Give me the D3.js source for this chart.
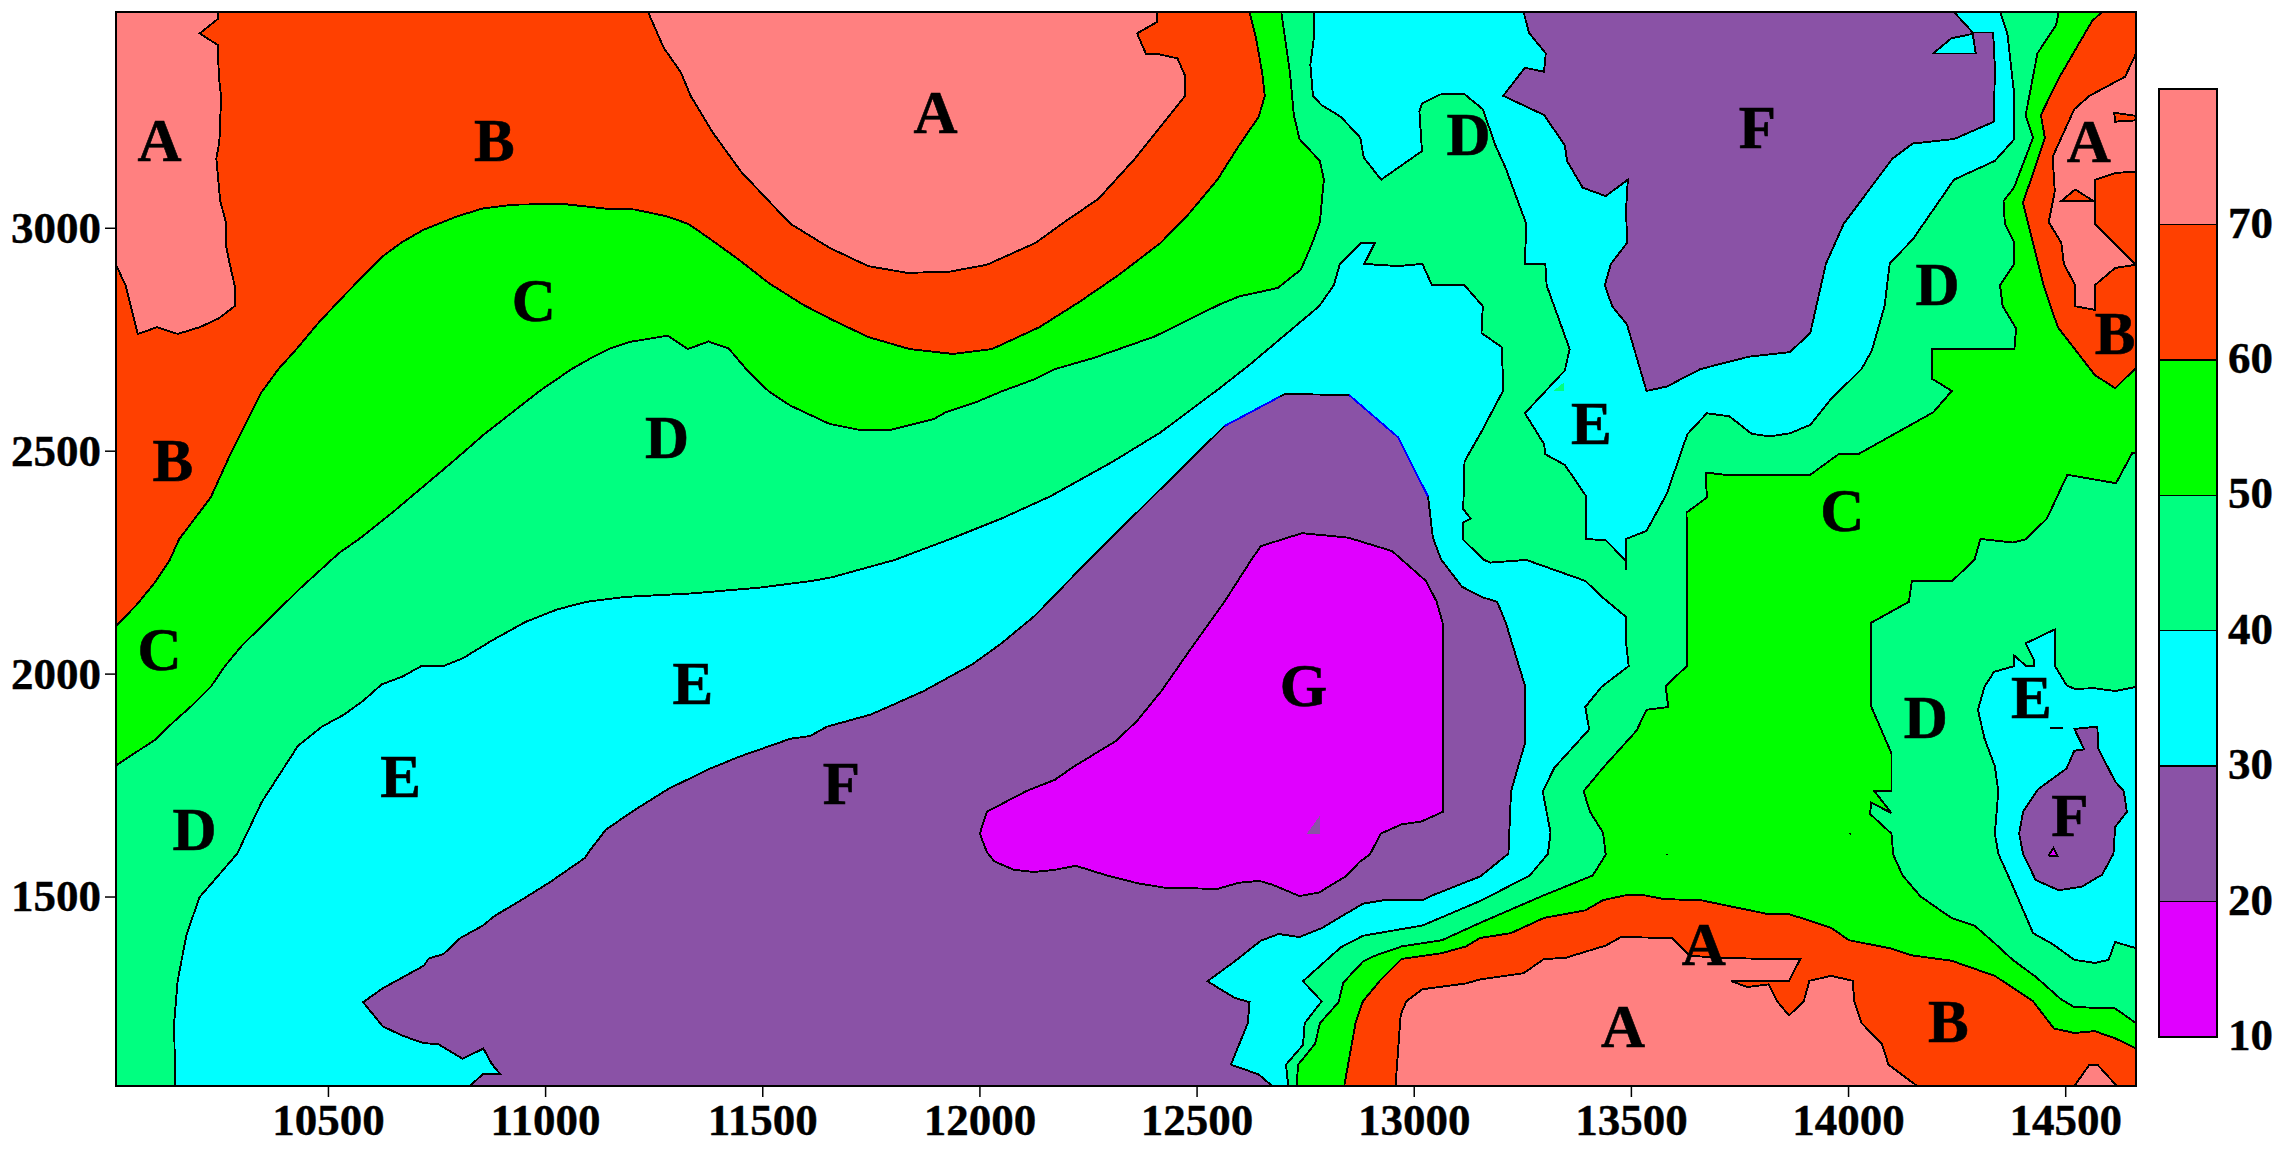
<!DOCTYPE html>
<html>
<head>
<meta charset="utf-8">
<title>Contour map</title>
<script src="https://cdn.jsdelivr.net/npm/d3@7.9.0/dist/d3.min.js"></script>
<style>
  html, body { margin: 0; padding: 0; background: #fff; }
  svg { display: block; }
  text { font-family: "Liberation Serif", "Times New Roman", serif; font-weight: bold; fill: #000; }
</style>
</head>
<body>
<svg id="chart" width="2283" height="1154"></svg>
<script>
// level letters, their colours and the value range of each colour bar band
const levels = ['A', 'B', 'C', 'D', 'E', 'F', 'G'];
const levelColors = ['#ff8080', '#ff4000', '#00ff00', '#00ff80', '#00ffff', '#8a52a6', '#e000ff'];
const levelLow = [70, 60, 50, 40, 30, 20, 10];
const levelHigh = [80, 70, 60, 50, 40, 30, 20];

const xTicks = [10500, 11000, 11500, 12000, 12500, 13000, 13500, 14000, 14500];
const yTicks = [1500, 2000, 2500, 3000];
const barTicks = [10, 20, 30, 40, 50, 60, 70];

const xExtent = [10012, 14663];
const yExtent = [1075, 3484];

// contour outlines as [x, y] in map units
const cTop = [[10012,1794],[10101,1851],[10146,1893],[10191,1932],[10230,1970],[10263,2017],[10302,2063],[10369,2127],[10436,2191],[10525,2270],[10576,2305],[10648,2361],[10715,2416],[10788,2476],[10860,2537],[10927,2588],[10989,2635],[11061,2683],[11106,2708],[11151,2730],[11195,2744],[11282,2758],[11329,2728],[11376,2745],[11422,2730],[11463,2683],[11515,2633],[11565,2601],[11655,2560],[11722,2547],[11796,2547],[11895,2571],[11922,2586],[11995,2610],[12051,2633],[12129,2661],[12174,2683],[12263,2708],[12403,2756],[12553,2828],[12598,2846],[12687,2865],[12740,2906],[12765,2962],[12784,3013],[12793,3108],[12784,3150],[12737,3199],[12724,3253],[12715,3348],[12695,3484],[10012,3484]];
const bTop = [[10012,2106],[10062,2157],[10101,2204],[10135,2253],[10157,2301],[10230,2395],[10274,2489],[10347,2631],[10386,2683],[10425,2725],[10481,2790],[10548,2859],[10626,2936],[10671,2968],[10721,2996],[10799,3026],[10855,3043],[10927,3052],[11045,3053],[11139,3043],[11206,3041],[11279,3026],[11329,3009],[11374,2979],[11424,2944],[11448,2927],[11515,2876],[11593,2828],[11660,2794],[11744,2755],[11839,2728],[11939,2717],[12029,2728],[12138,2777],[12229,2833],[12319,2893],[12417,2966],[12481,3030],[12548,3108],[12598,3185],[12643,3249],[12657,3296],[12651,3348],[12637,3425],[12622,3484],[10012,3484]];
const aTopLeft = [[10012,3484],[10246,3484],[10246,3468],[10205,3436],[10246,3410],[10249,3339],[10254,3292],[10250,3193],[10243,3155],[10252,3060],[10265,3013],[10265,2962],[10272,2927],[10285,2871],[10285,2824],[10249,2797],[10205,2777],[10154,2762],[10107,2777],[10062,2762],[10034,2871],[10012,2917]];
const aTopMid = [[11237,3484],[11273,3404],[11313,3348],[11335,3296],[11385,3215],[11452,3125],[11515,3060],[11565,3009],[11655,2955],[11744,2914],[11833,2899],[11928,2901],[12017,2917],[12129,2966],[12196,3013],[12274,3065],[12358,3155],[12473,3295],[12473,3342],[12456,3380],[12414,3389],[12384,3389],[12363,3436],[12408,3461],[12408,3484]];
const cRight = [[14485,3484],[14479,3455],[14436,3391],[14409,3253],[14426,3202],[14382,3090],[14358,3060],[14361,3009],[14383,2966],[14383,2919],[14350,2871],[14356,2824],[14387,2774],[14383,2728],[14194,2728],[14194,2661],[14239,2634],[14196,2586],[14023,2492],[13978,2492],[13913,2446],[13717,2446],[13672,2451],[13675,2395],[13628,2361],[13630,2255],[13630,2018],[13580,1972],[13586,1925],[13536,1919],[13513,1872],[13436,1789],[13391,1736],[13406,1690],[13436,1643],[13442,1594],[13412,1547],[13300,1503],[13153,1441],[13065,1402],[12972,1388],[12910,1367],[12883,1354],[12838,1307],[12827,1263],[12784,1216],[12773,1170],[12734,1123],[12730,1075],[14663,1075],[14663,1216],[14615,1249],[14521,1252],[14491,1269],[14432,1320],[14379,1358],[14338,1395],[14291,1435],[14238,1452],[14167,1500],[14126,1547],[14104,1594],[14100,1641],[14051,1685],[14053,1711],[14100,1687],[14061,1736],[14100,1736],[14100,1821],[14053,1927],[14053,2114],[14140,2161],[14147,2208],[14240,2208],[14291,2255],[14305,2302],[14379,2294],[14409,2301],[14458,2348],[14505,2446],[14617,2427],[14654,2494],[14663,2494],[14663,3484]];
const bRight = [[14585,3484],[14562,3464],[14485,3335],[14444,3253],[14453,3202],[14403,3056],[14450,2871],[14483,2777],[14568,2670],[14615,2640],[14660,2683],[14663,2683],[14663,3484]];
const aRight = [[14663,3391],[14638,3339],[14556,3296],[14521,3266],[14471,3159],[14476,3082],[14462,3013],[14491,2966],[14497,2919],[14523,2871],[14523,2824],[14568,2816],[14568,2871],[14615,2910],[14663,2917],[14568,3009],[14568,3107],[14615,3123],[14663,3126]];
const bRightSpike = [[14613,3258],[14663,3251],[14663,3241],[14615,3238]];
const bRightTri = [[14491,3060],[14523,3086],[14565,3060]];
const bBottom = [[12840,1075],[12866,1216],[12883,1265],[12922,1311],[12972,1360],[13065,1373],[13120,1388],[13153,1407],[13224,1418],[13300,1452],[13395,1469],[13436,1492],[13489,1503],[13530,1503],[13577,1494],[13660,1492],[13754,1473],[13819,1460],[13866,1460],[13961,1430],[14002,1402],[14096,1384],[14147,1368],[14238,1356],[14338,1322],[14426,1265],[14474,1204],[14521,1194],[14568,1198],[14615,1182],[14663,1159],[14663,1075]];
const aBottom = [[12958,1075],[12970,1235],[12983,1265],[13020,1292],[13120,1305],[13153,1314],[13253,1328],[13300,1360],[13348,1362],[13442,1390],[13477,1409],[13595,1407],[13636,1367],[13719,1362],[13819,1360],[13890,1360],[13864,1310],[13731,1310],[13768,1297],[13817,1303],[13837,1265],[13864,1233],[13898,1265],[13911,1311],[13961,1322],[14011,1311],[14014,1265],[14031,1216],[14078,1170],[14093,1123],[14159,1075]];
const aBottomSmall = [[14521,1075],[14556,1123],[14574,1123],[14619,1075]];
const eCentral = [[10148,1075],[10146,1218],[10154,1311],[10174,1413],[10204,1498],[10291,1596],[10347,1711],[10392,1779],[10431,1838],[10486,1881],[10537,1908],[10581,1939],[10624,1976],[10671,1993],[10715,2017],[10766,2017],[10810,2034],[10877,2074],[10955,2116],[11028,2144],[11095,2161],[11184,2172],[11340,2180],[11495,2193],[11615,2208],[11660,2216],[11805,2255],[11928,2300],[12051,2348],[12162,2397],[12308,2476],[12417,2541],[12553,2640],[12620,2691],[12782,2824],[12816,2871],[12830,2919],[12877,2965],[12910,2965],[12886,2919],[12964,2914],[13020,2919],[13042,2871],[13117,2871],[13159,2824],[13156,2764],[13203,2732],[13206,2635],[13155,2541],[13117,2476],[13114,2369],[13131,2348],[13114,2339],[13114,2300],[13162,2255],[13177,2249],[13259,2255],[13395,2208],[13436,2170],[13489,2127],[13489,2068],[13495,2017],[13432,1970],[13395,1925],[13404,1875],[13324,1789],[13297,1736],[13315,1643],[13309,1596],[13267,1547],[13153,1490],[13020,1435],[12883,1412],[12832,1386],[12745,1310],[12788,1265],[12749,1216],[12745,1167],[12706,1123],[12711,1075]];
const eTop = [[12771,3484],[12771,3434],[12762,3365],[12768,3296],[12788,3275],[12832,3249],[12877,3202],[12885,3157],[12925,3108],[13019,3172],[13013,3262],[13019,3279],[13061,3299],[13115,3301],[13159,3266],[13188,3185],[13212,3133],[13259,3009],[13256,2919],[13303,2919],[13306,2871],[13359,2728],[13348,2680],[13256,2584],[13300,2515],[13303,2492],[13348,2468],[13397,2398],[13397,2302],[13442,2299],[13489,2253],[13489,2232],[13489,2302],[13536,2320],[13583,2404],[13630,2537],[13675,2584],[13727,2577],[13778,2538],[13819,2532],[13866,2539],[13913,2558],[13961,2616],[14031,2683],[14055,2725],[14084,2824],[14096,2920],[14149,2974],[14244,3108],[14338,3150],[14382,3198],[14383,3296],[14367,3434],[14350,3484]];
const eRight = [[14663,1970],[14615,1961],[14568,1967],[14521,1966],[14503,1974],[14476,2018],[14476,2099],[14409,2068],[14429,2029],[14429,2018],[14409,2018],[14383,2040],[14383,2017],[14336,2004],[14314,1970],[14299,1919],[14314,1855],[14338,1792],[14346,1736],[14338,1641],[14346,1596],[14379,1524],[14426,1418],[14473,1392],[14521,1358],[14568,1351],[14600,1358],[14615,1398],[14663,1384]];
const fCentral = [[10827,1075],[10857,1102],[10896,1102],[10877,1125],[10858,1159],[10810,1136],[10754,1169],[10721,1171],[10671,1188],[10626,1209],[10581,1263],[10626,1294],[10721,1345],[10732,1361],[10766,1371],[10805,1407],[10857,1435],[10883,1456],[10955,1498],[11011,1532],[11091,1586],[11106,1607],[11140,1650],[11206,1694],[11285,1742],[11380,1787],[11448,1814],[11565,1854],[11610,1860],[11649,1881],[11749,1908],[11794,1927],[11872,1961],[11984,2021],[12051,2068],[12129,2131],[12252,2255],[12308,2309],[12564,2555],[12693,2622],[12704,2627],[12851,2625],[12964,2530],[13033,2397],[13044,2305],[13063,2256],[13111,2195],[13156,2172],[13192,2161],[13212,2114],[13257,1970],[13257,1847],[13224,1736],[13218,1596],[13153,1545],[13044,1503],[13020,1492],[12933,1492],[12883,1484],[12788,1429],[12737,1409],[12689,1416],[12648,1401],[12587,1354],[12525,1310],[12587,1273],[12622,1263],[12618,1216],[12579,1123],[12643,1101],[12674,1075]];
const fTop = [[13253,3484],[13265,3438],[13304,3391],[13300,3350],[13256,3359],[13206,3296],[13300,3253],[13348,3185],[13353,3150],[13389,3090],[13442,3071],[13493,3108],[13489,3043],[13491,2966],[13454,2919],[13440,2871],[13457,2824],[13491,2783],[13536,2634],[13583,2644],[13660,2683],[13772,2711],[13866,2721],[13913,2764],[13949,2919],[13990,3009],[14102,3155],[14149,3189],[14244,3199],[14336,3238],[14338,3361],[14334,3438],[14287,3438],[14244,3484]];
const eNotch = [[14196,3391],[14238,3425],[14287,3435],[14294,3391]];
const fRight = [[14521,1876],[14574,1881],[14576,1832],[14615,1758],[14635,1736],[14642,1690],[14615,1656],[14611,1596],[14585,1549],[14538,1522],[14485,1514],[14432,1537],[14403,1596],[14394,1641],[14403,1690],[14438,1741],[14503,1787],[14521,1827],[14544,1830]];
const gRightTri = [[14462,1592],[14473,1609],[14483,1590]];
const gMain = [[12648,2286],[12743,2315],[12849,2305],[12950,2275],[13028,2208],[13053,2161],[13067,2112],[13067,1690],[13017,1668],[12972,1662],[12924,1641],[12899,1594],[12877,1579],[12843,1545],[12782,1509],[12737,1501],[12676,1526],[12645,1535],[12598,1531],[12548,1517],[12425,1520],[12363,1530],[12291,1548],[12222,1569],[12174,1560],[12126,1555],[12079,1560],[12034,1579],[12017,1600],[12001,1641],[12017,1690],[12107,1736],[12174,1762],[12218,1792],[12313,1848],[12363,1894],[12419,1961],[12492,2063],[12564,2161],[12626,2255]];

// little slivers without an outline
const fInG = [[12754,1641],[12784,1681],[12784,1641]];
const dInE = [[13322,2635],[13345,2652],[13345,2635]];

// stray line pieces and specks
const dashRight = [[14464,1878],[14495,1878]];
const blueLeft = [[12564,2555],[12693,2622]];
const blueRight = [[12851,2625],[12964,2530],[13033,2397]];
const speckX = [13583, 14005];
const speckY = [1594, 1641];

// letter labels
const labelText = ['A','B','C','D','B','C','E','E','D','A','D','F','G','F','A','D','B','E','C','A','A','B','D','E','F'];
const labelX = [10112,10883,10974,11281,10143,10112,11340,10667,10193,11899,13126,11682,12746,13791,14554,14206,14615,13409,13987,13668,13482,14231,14179,14422,14511];
const labelY = [3196,3196,2837,2528,2477,2053,1978,1769,1650,3258,3208,1752,1973,3223,3193,2873,2762,2560,2365,1392,1207,1218,1900,1945,1681];

// paint order: later regions sit on top of earlier ones
const regions = [
  ['C', cTop], ['B', bTop], ['A', aTopLeft], ['A', aTopMid],
  ['C', cRight], ['B', bRight], ['A', aRight], ['B', bRightSpike], ['B', bRightTri],
  ['B', bBottom], ['A', aBottom], ['A', aBottomSmall],
  ['E', eCentral], ['E', eTop], ['E', eRight],
  ['F', fCentral], ['F', fTop], ['E', eNotch], ['F', fRight], ['G', gRightTri], ['G', gMain],
];

const x = d3.scaleLinear().domain(xExtent).range([116, 2136]);
const y = d3.scaleLinear().domain(yExtent).range([1086, 12]);
const barY = d3.scaleLinear().domain([10, 80]).range([1037, 89]);
const color = d3.scaleOrdinal().domain(levels).range(levelColors);

const svg = d3.select('#chart');

const line = d3.line().x(d => x(d[0])).y(d => y(d[1]));

svg.append('clipPath')
  .attr('id', 'plot-clip')
  .append('rect')
  .attr('x', x(xExtent[0]))
  .attr('y', y(yExtent[1]))
  .attr('width', x(xExtent[1]) - x(xExtent[0]))
  .attr('height', y(yExtent[0]) - y(yExtent[1]));

const plot = svg.append('g')
  .attr('clip-path', 'url(#plot-clip)')
  .attr('shape-rendering', 'crispEdges');

// D is the background level
plot.append('rect')
  .attr('x', x(xExtent[0]))
  .attr('y', y(yExtent[1]))
  .attr('width', x(xExtent[1]) - x(xExtent[0]))
  .attr('height', y(yExtent[0]) - y(yExtent[1]))
  .attr('fill', color('D'));

plot.selectAll('path.region')
  .data(regions)
  .enter()
  .append('path')
  .attr('class', 'region')
  .attr('d', d => line(d[1]) + 'Z')
  .attr('fill', d => color(d[0]))
  .attr('stroke', '#000')
  .attr('stroke-width', 1.9)
  .attr('stroke-linejoin', 'miter');

plot.append('path').attr('d', line(fInG) + 'Z').attr('fill', color('F'));
plot.append('path').attr('d', line(dInE) + 'Z').attr('fill', color('D'));

plot.append('path')
  .attr('d', line(dashRight))
  .attr('fill', 'none')
  .attr('stroke', '#000')
  .attr('stroke-width', 1.5);

[blueLeft, blueRight].forEach(seg => {
  plot.append('path')
    .attr('d', line(seg))
    .attr('fill', 'none')
    .attr('stroke', '#0000ff')
    .attr('stroke-width', 1.9);
});

plot.selectAll('circle')
  .data(speckX)
  .enter()
  .append('circle')
  .attr('cx', d => x(d))
  .attr('cy', (d, i) => y(speckY[i]))
  .attr('r', 1)
  .attr('fill', '#000');

// frame
svg.append('rect')
  .attr('x', x(xExtent[0]))
  .attr('y', y(yExtent[1]))
  .attr('width', x(xExtent[1]) - x(xExtent[0]))
  .attr('height', y(yExtent[0]) - y(yExtent[1]))
  .attr('fill', 'none')
  .attr('stroke', '#000')
  .attr('stroke-width', 2)
  .attr('shape-rendering', 'crispEdges');

// letters
svg.append('g')
  .selectAll('text')
  .data(labelText)
  .enter()
  .append('text')
  .attr('x', (d, i) => x(labelX[i]))
  .attr('y', (d, i) => y(labelY[i]))
  .attr('dy', '0.33em')
  .attr('text-anchor', 'middle')
  .attr('font-size', 61)
  .attr('stroke', '#000')
  .attr('stroke-width', 0.6)
  .text(d => d);

// axes
const xAxis = d3.axisBottom(x).tickValues(xTicks).tickSize(11).tickPadding(6).tickFormat(d3.format('d'));
const yAxis = d3.axisLeft(y).tickValues(yTicks).tickSize(11).tickPadding(4).tickFormat(d3.format('d'));

const gx = svg.append('g').attr('transform', `translate(0,${y(yExtent[0])})`).call(xAxis);
const gy = svg.append('g').attr('transform', `translate(${x(xExtent[0])},0)`).call(yAxis);

[gx, gy].forEach(g => {
  g.select('.domain').remove();
  g.selectAll('line').attr('stroke', '#000').attr('stroke-width', 1.5);
  g.selectAll('text')
    .attr('font-family', '"Liberation Serif", serif')
    .attr('font-size', 45)
    .attr('font-weight', 'bold')
    .attr('fill', '#000')
    .attr('stroke', '#000')
    .attr('stroke-width', 0.4);
});

// colour bar
const barLeft = 2159;
const barRight = 2217;

svg.append('g')
  .attr('shape-rendering', 'crispEdges')
  .selectAll('rect')
  .data(levels)
  .enter()
  .append('rect')
  .attr('x', barLeft)
  .attr('width', barRight - barLeft)
  .attr('y', (d, i) => barY(levelHigh[i]))
  .attr('height', (d, i) => barY(levelLow[i]) - barY(levelHigh[i]))
  .attr('fill', d => color(d))
  .attr('stroke', '#000')
  .attr('stroke-width', 1.5);

svg.append('rect')
  .attr('x', barLeft)
  .attr('y', barY(80))
  .attr('width', barRight - barLeft)
  .attr('height', barY(10) - barY(80))
  .attr('fill', 'none')
  .attr('stroke', '#000')
  .attr('stroke-width', 2)
  .attr('shape-rendering', 'crispEdges');

const barAxis = d3.axisRight(barY).tickValues(barTicks).tickSize(0).tickPadding(11).tickFormat(d3.format('d'));

const gb = svg.append('g').attr('transform', `translate(${barRight},0)`).call(barAxis);
gb.select('.domain').remove();
gb.selectAll('text')
  .attr('font-family', '"Liberation Serif", serif')
  .attr('font-size', 45)
  .attr('font-weight', 'bold')
  .attr('fill', '#000')
  .attr('stroke', '#000')
  .attr('stroke-width', 0.4)
  .attr('dy', '0.28em');
</script>
</body>
</html>
